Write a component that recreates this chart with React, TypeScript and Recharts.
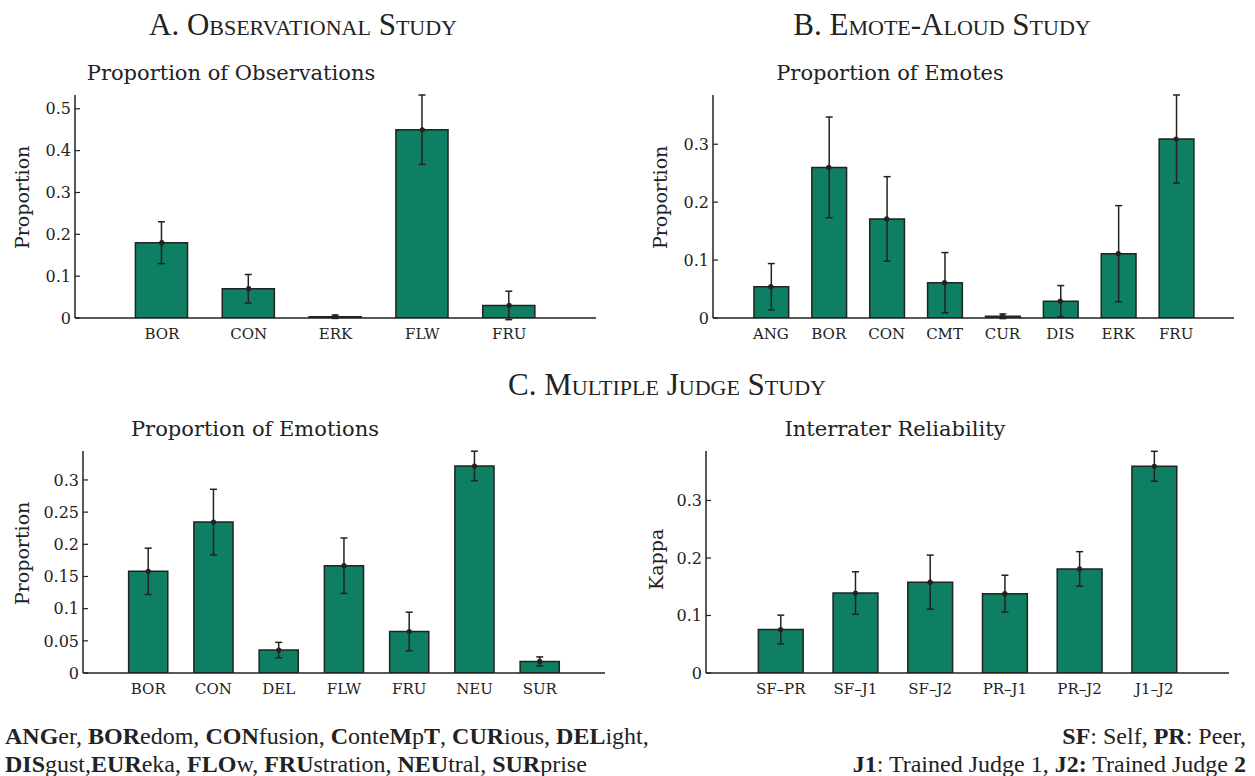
import type { CSSProperties, ReactNode } from "react";
import { Bar, ComposedChart, ErrorBar, Line, XAxis, YAxis } from "recharts";

const GREEN = "#0e7f62";
const INK = "#222";
const SERIF = "'DejaVu Serif', serif";
const TIMES = "'Liberation Serif', 'Times New Roman', serif";

// A. observational study
const obsCats = ["BOR", "CON", "ERK", "FLW", "FRU"];
const obsVals = [0.18, 0.07, 0.003, 0.45, 0.03];
const obsErr = [0.05, 0.034, 0.004, 0.083, 0.034];
const obsTicks = [0, 0.1, 0.2, 0.3, 0.4, 0.5];

// B. emote-aloud study
const emoteCats = ["ANG", "BOR", "CON", "CMT", "CUR", "DIS", "ERK", "FRU"];
const emoteVals = [0.054, 0.26, 0.171, 0.061, 0.003, 0.029, 0.111, 0.309];
const emoteErr = [0.04, 0.087, 0.073, 0.052, 0.004, 0.027, 0.083, 0.076];
const emoteTicks = [0, 0.1, 0.2, 0.3];

// C. multiple judge study
const judgeCats = ["BOR", "CON", "DEL", "FLW", "FRU", "NEU", "SUR"];
const judgeVals = [0.158, 0.2345, 0.0356, 0.1668, 0.0645, 0.3217, 0.018];
const judgeErr = [0.036, 0.051, 0.012, 0.043, 0.03, 0.023, 0.007];
const judgeTicks = [0, 0.05, 0.1, 0.15, 0.2, 0.25, 0.3];

const pairCats = ["SF–PR", "SF–J1", "SF–J2", "PR–J1", "PR–J2", "J1–J2"];
const kappaVals = [0.0756, 0.139, 0.158, 0.138, 0.181, 0.3595];
const kappaErr = [0.025, 0.037, 0.047, 0.032, 0.03, 0.026];
const kappaTicks = [0, 0.1, 0.2, 0.3];

type Box = { left: number; top: number; w: number; h: number };
type Plot = { left: number; right: number; top: number; bottom: number };

const Y_W = 60;
const X_H = 30;

function Panel({
  cats,
  vals,
  errs,
  ticks,
  yMax,
  box,
  plot,
}: {
  cats: string[];
  vals: number[];
  errs: number[];
  ticks: number[];
  yMax: number;
  box: Box;
  plot: Plot;
}) {
  const rows = cats.map((name, i) => ({ name, v: vals[i], err: errs[i] }));
  const step = (plot.right - plot.left) / (cats.length + 1);

  return (
    <div style={{ position: "absolute", left: box.left, top: box.top }}>
      <ComposedChart
        width={box.w}
        height={box.h}
        data={rows}
        margin={{
          top: plot.top - box.top,
          right: box.left + box.w - plot.right,
          bottom: box.top + box.h - plot.bottom - X_H,
          left: plot.left - box.left - Y_W,
        }}
      >
        <XAxis
          dataKey="name"
          interval={0}
          height={X_H}
          tickLine={false}
          tickSize={0}
          tickMargin={10}
          padding={{ left: step / 2, right: step / 2 }}
          axisLine={{ stroke: INK, strokeWidth: 1.5 }}
          tick={{ fill: INK, fontSize: 15, fontFamily: SERIF }}
        />
        <YAxis
          width={Y_W}
          type="number"
          domain={[0, yMax]}
          allowDataOverflow
          ticks={ticks}
          interval={0}
          tickSize={-5}
          tickMargin={9}
          axisLine={{ stroke: INK, strokeWidth: 1.5 }}
          tickLine={{ stroke: INK, strokeWidth: 1.2 }}
          tick={{ fill: INK, fontSize: 16, fontFamily: SERIF }}
        />
        <Bar
          dataKey="v"
          fill={GREEN}
          stroke={INK}
          strokeWidth={1.5}
          barSize={step * 0.6}
          isAnimationActive={false}
        >
          <ErrorBar dataKey="err" width={3.5} stroke={INK} strokeWidth={1.5} />
        </Bar>
        <Line
          dataKey="v"
          stroke="none"
          dot={{ r: 2.6, fill: INK, stroke: INK, strokeWidth: 0 }}
          activeDot={false}
          isAnimationActive={false}
        />
      </ComposedChart>
    </div>
  );
}

function Txt({
  x,
  y,
  children,
  size,
  font = SERIF,
  align = "center",
  rotate = false,
  style,
}: {
  x: number;
  y: number;
  children: ReactNode;
  size: number;
  font?: string;
  align?: "center" | "left" | "right";
  rotate?: boolean;
  style?: CSSProperties;
}) {
  const w = 700;
  const lh = size * 1.3;
  let left = x - w / 2;
  if (align === "left") left = x;
  if (align === "right") left = x - w;
  return (
    <div
      style={{
        position: "absolute",
        left,
        top: y - lh / 2,
        width: w,
        height: lh,
        lineHeight: `${lh}px`,
        fontSize: size,
        fontFamily: font,
        color: INK,
        textAlign: align,
        whiteSpace: "nowrap",
        transform: rotate ? "rotate(-90deg)" : undefined,
        ...style,
      }}
    >
      {children}
    </div>
  );
}

const caps: CSSProperties = { fontVariant: "small-caps" };

export default function App() {
  return (
    <div
      style={{
        position: "absolute",
        left: 0,
        top: 0,
        width: 1255,
        height: 776,
        background: "#fff",
        overflow: "hidden",
      }}
    >
      <Txt x={303} y={25} size={31} font={TIMES} style={caps}>
        A. Observational Study
      </Txt>
      <Txt x={942} y={25} size={31} font={TIMES} style={caps}>
        B. Emote-Aloud Study
      </Txt>
      <Txt x={667} y={385} size={31} font={TIMES} style={caps}>
        C. Multiple Judge Study
      </Txt>

      <Txt x={231} y={74} size={21}>Proportion of Observations</Txt>
      <Txt x={890} y={74} size={21}>Proportion of Emotes</Txt>
      <Txt x={255} y={430} size={21}>Proportion of Emotions</Txt>
      <Txt x={895} y={430} size={21}>Interrater Reliability</Txt>

      <Txt x={22} y={197} size={19} rotate>Proportion</Txt>
      <Txt x={660} y={197} size={19} rotate>Proportion</Txt>
      <Txt x={22} y={553} size={19} rotate>Proportion</Txt>
      <Txt x={656} y={559} size={19} rotate>Kappa</Txt>

      <Panel
        cats={obsCats}
        vals={obsVals}
        errs={obsErr}
        ticks={obsTicks}
        yMax={0.533}
        box={{ left: 0, top: 60, w: 640, h: 300 }}
        plot={{ left: 75, right: 596, top: 95, bottom: 318 }}
      />
      <Panel
        cats={emoteCats}
        vals={emoteVals}
        errs={emoteErr}
        ticks={emoteTicks}
        yMax={0.385}
        box={{ left: 640, top: 60, w: 615, h: 300 }}
        plot={{ left: 713, right: 1234, top: 95, bottom: 318 }}
      />
      <Panel
        cats={judgeCats}
        vals={judgeVals}
        errs={judgeErr}
        ticks={judgeTicks}
        yMax={0.345}
        box={{ left: 0, top: 420, w: 640, h: 300 }}
        plot={{ left: 83, right: 605, top: 451, bottom: 673 }}
      />
      <Panel
        cats={pairCats}
        vals={kappaVals}
        errs={kappaErr}
        ticks={kappaTicks}
        yMax={0.386}
        box={{ left: 640, top: 420, w: 615, h: 300 }}
        plot={{ left: 706, right: 1229, top: 451, bottom: 673 }}
      />

      <Txt x={5} y={737} size={24} font={TIMES} align="left">
        <b>ANG</b>er, <b>BOR</b>edom, <b>CON</b>fusion, <b>C</b>onte<b>M</b>p<b>T</b>,{" "}
        <b>CUR</b>ious, <b>DEL</b>ight,
      </Txt>
      <Txt x={5} y={765} size={24} font={TIMES} align="left">
        <b>DIS</b>gust,<b>EUR</b>eka, <b>FLO</b>w, <b>FRU</b>stration, <b>NEU</b>tral,{" "}
        <b>SUR</b>prise
      </Txt>
      <Txt x={1246} y={737} size={24} font={TIMES} align="right">
        <b>SF</b>: Self, <b>PR</b>: Peer,
      </Txt>
      <Txt x={1246} y={765} size={24} font={TIMES} align="right">
        <b>J1</b>: Trained Judge 1, <b>J2:</b> Trained Judge <b>2</b>
      </Txt>
    </div>
  );
}
